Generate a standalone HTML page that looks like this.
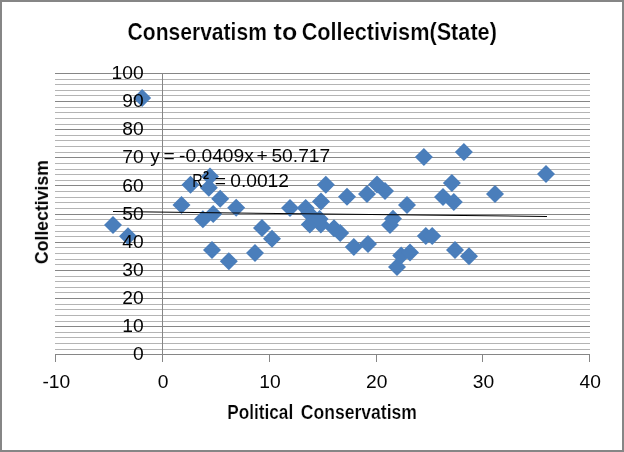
<!DOCTYPE html>
<html><head><meta charset="utf-8"><title>Chart</title>
<style>
html,body{margin:0;padding:0;background:#fff;}
body{width:624px;height:452px;overflow:hidden;font-family:"Liberation Sans",sans-serif;}
svg{display:block;}
text{font-family:"Liberation Sans",sans-serif;fill:#000;}
.b{font-weight:bold;}
.t{stroke:#fff;stroke-width:0.2px;}
</style></head><body>
<svg width="624" height="452" viewBox="0 0 624 452">
<rect x="0" y="0" width="624" height="452" fill="#ffffff"/>
<rect x="1" y="1" width="622" height="450" fill="none" stroke="#868686" stroke-width="2"/>

<g shape-rendering="crispEdges">
<rect x="55" y="349" width="535" height="1" fill="#b4b4b4"/>
<rect x="55" y="343" width="535" height="1" fill="#b4b4b4"/>
<rect x="55" y="337" width="535" height="1" fill="#b4b4b4"/>
<rect x="55" y="332" width="535" height="1" fill="#b4b4b4"/>
<rect x="55" y="326" width="535" height="1" fill="#868686"/>
<rect x="55" y="321" width="535" height="1" fill="#b4b4b4"/>
<rect x="55" y="315" width="535" height="1" fill="#b4b4b4"/>
<rect x="55" y="309" width="535" height="1" fill="#b4b4b4"/>
<rect x="55" y="304" width="535" height="1" fill="#b4b4b4"/>
<rect x="55" y="298" width="535" height="1" fill="#868686"/>
<rect x="55" y="292" width="535" height="1" fill="#b4b4b4"/>
<rect x="55" y="287" width="535" height="1" fill="#b4b4b4"/>
<rect x="55" y="281" width="535" height="1" fill="#b4b4b4"/>
<rect x="55" y="276" width="535" height="1" fill="#b4b4b4"/>
<rect x="55" y="270" width="535" height="1" fill="#868686"/>
<rect x="55" y="264" width="535" height="1" fill="#b4b4b4"/>
<rect x="55" y="259" width="535" height="1" fill="#b4b4b4"/>
<rect x="55" y="253" width="535" height="1" fill="#b4b4b4"/>
<rect x="55" y="247" width="535" height="1" fill="#b4b4b4"/>
<rect x="55" y="242" width="535" height="1" fill="#868686"/>
<rect x="55" y="236" width="535" height="1" fill="#b4b4b4"/>
<rect x="55" y="231" width="535" height="1" fill="#b4b4b4"/>
<rect x="55" y="225" width="535" height="1" fill="#b4b4b4"/>
<rect x="55" y="219" width="535" height="1" fill="#b4b4b4"/>
<rect x="55" y="214" width="535" height="1" fill="#868686"/>
<rect x="55" y="208" width="535" height="1" fill="#b4b4b4"/>
<rect x="55" y="202" width="535" height="1" fill="#b4b4b4"/>
<rect x="55" y="197" width="535" height="1" fill="#b4b4b4"/>
<rect x="55" y="191" width="535" height="1" fill="#b4b4b4"/>
<rect x="55" y="185" width="535" height="1" fill="#868686"/>
<rect x="55" y="180" width="535" height="1" fill="#b4b4b4"/>
<rect x="55" y="174" width="535" height="1" fill="#b4b4b4"/>
<rect x="55" y="169" width="535" height="1" fill="#b4b4b4"/>
<rect x="55" y="163" width="535" height="1" fill="#b4b4b4"/>
<rect x="55" y="157" width="535" height="1" fill="#868686"/>
<rect x="55" y="152" width="535" height="1" fill="#b4b4b4"/>
<rect x="55" y="146" width="535" height="1" fill="#b4b4b4"/>
<rect x="55" y="140" width="535" height="1" fill="#b4b4b4"/>
<rect x="55" y="135" width="535" height="1" fill="#b4b4b4"/>
<rect x="55" y="129" width="535" height="1" fill="#868686"/>
<rect x="55" y="124" width="535" height="1" fill="#b4b4b4"/>
<rect x="55" y="118" width="535" height="1" fill="#b4b4b4"/>
<rect x="55" y="112" width="535" height="1" fill="#b4b4b4"/>
<rect x="55" y="107" width="535" height="1" fill="#b4b4b4"/>
<rect x="55" y="101" width="535" height="1" fill="#868686"/>
<rect x="55" y="95" width="535" height="1" fill="#b4b4b4"/>
<rect x="55" y="90" width="535" height="1" fill="#b4b4b4"/>
<rect x="55" y="84" width="535" height="1" fill="#b4b4b4"/>
<rect x="55" y="79" width="535" height="1" fill="#b4b4b4"/>
<rect x="55" y="73" width="535" height="1" fill="#868686"/>
<rect x="55" y="354" width="535" height="1" fill="#868686"/>
<rect x="55" y="354" width="1" height="8" fill="#868686"/>
<rect x="162" y="354" width="1" height="8" fill="#868686"/>
<rect x="269" y="354" width="1" height="8" fill="#868686"/>
<rect x="376" y="354" width="1" height="8" fill="#868686"/>
<rect x="482" y="354" width="1" height="8" fill="#868686"/>
<rect x="589" y="354" width="1" height="8" fill="#868686"/>
<rect x="162" y="73" width="1" height="282" fill="#868686"/>
</g>
<path d="M104.0 225.0L113.0 216.0L122.0 225.0L113.0 234.0Z" fill="#4a7ebb"/>
<path d="M119.0 236.3L128.0 227.3L137.0 236.3L128.0 245.3Z" fill="#4a7ebb"/>
<path d="M133.1 98.0L142.1 89.0L151.1 98.0L142.1 107.0Z" fill="#4a7ebb"/>
<path d="M172.5 205.0L181.5 196.0L190.5 205.0L181.5 214.0Z" fill="#4a7ebb"/>
<path d="M181.5 184.7L190.5 175.7L199.5 184.7L190.5 193.7Z" fill="#4a7ebb"/>
<path d="M193.9 219.3L202.9 210.3L211.9 219.3L202.9 228.3Z" fill="#4a7ebb"/>
<path d="M199.8 187.7L208.8 178.7L217.8 187.7L208.8 196.7Z" fill="#4a7ebb"/>
<path d="M201.0 176.5L210.0 167.5L219.0 176.5L210.0 185.5Z" fill="#4a7ebb"/>
<path d="M204.2 214.1L213.2 205.1L222.2 214.1L213.2 223.1Z" fill="#4a7ebb"/>
<path d="M203.0 250.0L212.0 241.0L221.0 250.0L212.0 259.0Z" fill="#4a7ebb"/>
<path d="M211.2 198.8L220.2 189.8L229.2 198.8L220.2 207.8Z" fill="#4a7ebb"/>
<path d="M219.8 261.2L228.8 252.2L237.8 261.2L228.8 270.2Z" fill="#4a7ebb"/>
<path d="M227.2 207.8L236.2 198.8L245.2 207.8L236.2 216.8Z" fill="#4a7ebb"/>
<path d="M246.0 253.0L255.0 244.0L264.0 253.0L255.0 262.0Z" fill="#4a7ebb"/>
<path d="M253.0 228.1L262.0 219.1L271.0 228.1L262.0 237.1Z" fill="#4a7ebb"/>
<path d="M263.0 238.8L272.0 229.8L281.0 238.8L272.0 247.8Z" fill="#4a7ebb"/>
<path d="M281.0 208.0L290.0 199.0L299.0 208.0L290.0 217.0Z" fill="#4a7ebb"/>
<path d="M296.7 208.0L305.7 199.0L314.7 208.0L305.7 217.0Z" fill="#4a7ebb"/>
<path d="M300.0 213.3L309.0 204.3L318.0 213.3L309.0 222.3Z" fill="#4a7ebb"/>
<path d="M300.8 224.5L309.8 215.5L318.8 224.5L309.8 233.5Z" fill="#4a7ebb"/>
<path d="M311.8 224.5L320.8 215.5L329.8 224.5L320.8 233.5Z" fill="#4a7ebb"/>
<path d="M310.6 219.0L319.6 210.0L328.6 219.0L319.6 228.0Z" fill="#4a7ebb"/>
<path d="M312.0 201.4L321.0 192.4L330.0 201.4L321.0 210.4Z" fill="#4a7ebb"/>
<path d="M316.8 184.7L325.8 175.7L334.8 184.7L325.8 193.7Z" fill="#4a7ebb"/>
<path d="M325.0 228.2L334.0 219.2L343.0 228.2L334.0 237.2Z" fill="#4a7ebb"/>
<path d="M331.2 232.9L340.2 223.9L349.2 232.9L340.2 241.9Z" fill="#4a7ebb"/>
<path d="M338.0 196.8L347.0 187.8L356.0 196.8L347.0 205.8Z" fill="#4a7ebb"/>
<path d="M344.8 247.0L353.8 238.0L362.8 247.0L353.8 256.0Z" fill="#4a7ebb"/>
<path d="M358.0 193.9L367.0 184.9L376.0 193.9L367.0 202.9Z" fill="#4a7ebb"/>
<path d="M359.0 244.0L368.0 235.0L377.0 244.0L368.0 253.0Z" fill="#4a7ebb"/>
<path d="M368.0 184.6L377.0 175.6L386.0 184.6L377.0 193.6Z" fill="#4a7ebb"/>
<path d="M376.0 190.9L385.0 181.9L394.0 190.9L385.0 199.9Z" fill="#4a7ebb"/>
<path d="M381.0 225.0L390.0 216.0L399.0 225.0L390.0 234.0Z" fill="#4a7ebb"/>
<path d="M384.0 218.8L393.0 209.8L402.0 218.8L393.0 227.8Z" fill="#4a7ebb"/>
<path d="M388.0 267.0L397.0 258.0L406.0 267.0L397.0 276.0Z" fill="#4a7ebb"/>
<path d="M392.2 255.5L401.2 246.5L410.2 255.5L401.2 264.5Z" fill="#4a7ebb"/>
<path d="M398.0 205.1L407.0 196.1L416.0 205.1L407.0 214.1Z" fill="#4a7ebb"/>
<path d="M401.0 252.5L410.0 243.5L419.0 252.5L410.0 261.5Z" fill="#4a7ebb"/>
<path d="M414.9 157.0L423.9 148.0L432.9 157.0L423.9 166.0Z" fill="#4a7ebb"/>
<path d="M416.8 236.0L425.8 227.0L434.8 236.0L425.8 245.0Z" fill="#4a7ebb"/>
<path d="M423.2 236.0L432.2 227.0L441.2 236.0L432.2 245.0Z" fill="#4a7ebb"/>
<path d="M434.0 197.0L443.0 188.0L452.0 197.0L443.0 206.0Z" fill="#4a7ebb"/>
<path d="M442.9 183.0L451.9 174.0L460.9 183.0L451.9 192.0Z" fill="#4a7ebb"/>
<path d="M444.8 202.0L453.8 193.0L462.8 202.0L453.8 211.0Z" fill="#4a7ebb"/>
<path d="M446.0 250.0L455.0 241.0L464.0 250.0L455.0 259.0Z" fill="#4a7ebb"/>
<path d="M454.9 152.1L463.9 143.1L472.9 152.1L463.9 161.1Z" fill="#4a7ebb"/>
<path d="M460.0 256.2L469.0 247.2L478.0 256.2L469.0 265.2Z" fill="#4a7ebb"/>
<path d="M486.0 194.0L495.0 185.0L504.0 194.0L495.0 203.0Z" fill="#4a7ebb"/>
<path d="M537.0 174.0L546.0 165.0L555.0 174.0L546.0 183.0Z" fill="#4a7ebb"/>
<line x1="113" y1="211.6" x2="547" y2="216.45" stroke="#000" stroke-width="1.05"/>
<g opacity="0.99">
<text transform="translate(143.70 360.10) scale(1.035 1)" font-size="18.6" text-anchor="end">0</text>
<text transform="translate(143.70 332.00) scale(1.035 1)" font-size="18.6" text-anchor="end">10</text>
<text transform="translate(143.70 303.90) scale(1.035 1)" font-size="18.6" text-anchor="end">20</text>
<text transform="translate(143.70 275.80) scale(1.035 1)" font-size="18.6" text-anchor="end">30</text>
<text transform="translate(143.70 247.70) scale(1.035 1)" font-size="18.6" text-anchor="end">40</text>
<text transform="translate(143.70 219.60) scale(1.035 1)" font-size="18.6" text-anchor="end">50</text>
<text transform="translate(143.70 191.50) scale(1.035 1)" font-size="18.6" text-anchor="end">60</text>
<text transform="translate(143.70 163.40) scale(1.035 1)" font-size="18.6" text-anchor="end">70</text>
<text transform="translate(143.70 135.30) scale(1.035 1)" font-size="18.6" text-anchor="end">80</text>
<text transform="translate(143.70 107.20) scale(1.035 1)" font-size="18.6" text-anchor="end">90</text>
<text transform="translate(143.70 79.10) scale(1.035 1)" font-size="18.6" text-anchor="end">100</text>
<text transform="translate(56.30 388.00) scale(1.035 1)" font-size="18.6" text-anchor="middle">-10</text>
<text transform="translate(163.10 388.00) scale(1.035 1)" font-size="18.6" text-anchor="middle">0</text>
<text transform="translate(269.90 388.00) scale(1.035 1)" font-size="18.6" text-anchor="middle">10</text>
<text transform="translate(376.70 388.00) scale(1.035 1)" font-size="18.6" text-anchor="middle">20</text>
<text transform="translate(483.50 388.00) scale(1.035 1)" font-size="18.6" text-anchor="middle">30</text>
<text transform="translate(590.30 388.00) scale(1.035 1)" font-size="18.6" text-anchor="middle">40</text>
<text transform="translate(150.20 161.80) scale(1.035 1)" font-size="18.6" text-anchor="start">y</text>
<text transform="translate(163.60 161.80) scale(1.035 1)" font-size="18.6" text-anchor="start">=</text>
<text transform="translate(179.00 161.80) scale(1.035 1)" font-size="18.6" text-anchor="start">-0.0409x</text>
<text transform="translate(256.40 161.80) scale(1.035 1)" font-size="18.6" text-anchor="start">+</text>
<text transform="translate(271.40 161.80) scale(1.035 1)" font-size="18.6" text-anchor="start">50.717</text>
<text transform="translate(192.20 186.60) scale(0.78 1)" font-size="18.6" text-anchor="start">R</text>
<text class="b" transform="translate(203.00 179.20) scale(1.0 1)" font-size="11" text-anchor="start">2</text>
<text transform="translate(214.70 186.60) scale(1.035 1)" font-size="18.6" text-anchor="start">=</text>
<text transform="translate(230.20 186.60) scale(1.035 1)" font-size="18.6" text-anchor="start">0.0012</text>
<text class="b t" x="127.6" y="40.3" font-size="23.2" textLength="139.3" lengthAdjust="spacingAndGlyphs">Conservatism</text>
<text class="b t" x="273.6" y="40.3" font-size="23.2" textLength="23.6" lengthAdjust="spacingAndGlyphs">to</text>
<text class="b t" x="301.7" y="40.3" font-size="23.2" textLength="195.2" lengthAdjust="spacingAndGlyphs">Collectivism(State)</text>
<text class="b t" x="227.2" y="419.2" font-size="19.6" textLength="66.0" lengthAdjust="spacingAndGlyphs">Political</text>
<text class="b t" x="300.8" y="419.2" font-size="19.6" textLength="116.2" lengthAdjust="spacingAndGlyphs">Conservatism</text>
<text class="b" transform="translate(47.9 212.1) rotate(-90)" font-size="19.0" text-anchor="middle" textLength="104" lengthAdjust="spacingAndGlyphs">Collectivism</text>
</g>
</svg></body></html>
